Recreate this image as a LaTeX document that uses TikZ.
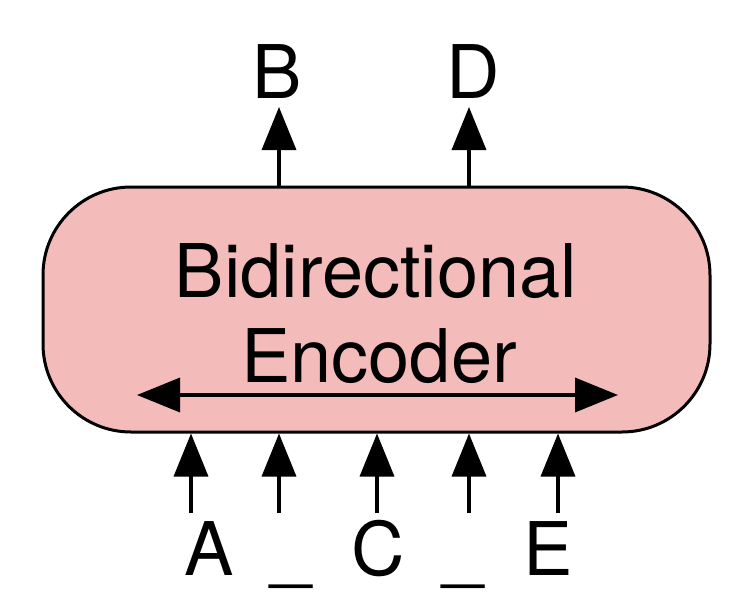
\documentclass[tikz,border=0pt]{standalone}
\usepackage{fontspec}
\setmainfont{TeX Gyre Heros}
\usetikzlibrary{arrows.meta}
\definecolor{encpink}{RGB}{244,187,187}
\begin{document}
\begin{tikzpicture}[x=1pt,y=-1pt,
  bigfont/.style={font=\fontsize{74}{85}\selectfont},
  arr/.style={line width=3.5pt,-{Triangle[length=43pt,width=34pt]}},
  dblarr/.style={line width=3.5pt,{Triangle[length=43pt,width=34pt]}-{Triangle[length=43pt,width=34pt]}},
  lbl/.style={bigfont,inner sep=0pt,anchor=base}]
\useasboundingbox (0,0) rectangle (756,616);
\node[draw,line width=3pt,fill=encpink,rounded corners=88pt,
      minimum width=667pt,minimum height=245pt,inner sep=0pt,
      bigfont,align=center] (enc) at (376.5,309.5) {};
\node[lbl] (t1) at (376,297) {Bidirectional};
\node[lbl] (t2) at (379,382) {Encoder};
% arrow inside
\coordinate (dl) at (137,395);
\coordinate (dr) at (618,395);
\draw[dblarr] (dl) -- (dr);
% output labels
\node[lbl] (B) at (277,98) {B};
\node[lbl] (D) at (473,98) {D};
\coordinate (bt) at (279,107);
\coordinate (dt) at (469,107);
\draw[arr] (enc.north -| bt) -- (bt);
\draw[arr] (enc.north -| dt) -- (dt);
% input labels
\node[lbl] (A) at (209,575) {A};
\node[lbl] (M1) at (291,575) {\_};
\node[lbl] (C) at (378,575) {C};
\node[lbl] (M2) at (463,575) {\_};
\node[lbl] (E) at (548,575) {E};
\foreach \n/\x in {ia/191,ib/279,ic/377,id/469,ie/558}{
  \coordinate (\n) at (\x,513);
  \draw[arr] (\n) -- (enc.south -| \n);
}
\end{tikzpicture}
\end{document}
